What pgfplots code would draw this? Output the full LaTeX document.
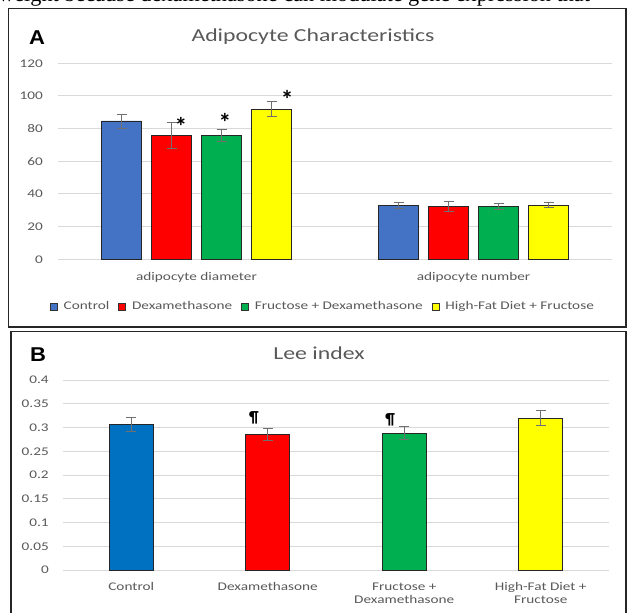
\documentclass[border=0pt]{standalone}
\usepackage{pgfplots}
\pgfplotsset{compat=1.18}
\usepackage{fontspec}
\setmainfont{Carlito}[FakeStretch=1.3]
\newfontfamily\markfont{Carlito}
\newfontfamily\panelfont{Liberation Sans}[FakeStretch=1.1]
\newfontfamily\seriffont{Liberation Serif}
\definecolor{txtgray}{HTML}{595959}
\definecolor{gridgray}{HTML}{D9D9D9}
\definecolor{errgray}{HTML}{707070}
\definecolor{cblueA}{HTML}{4472C4}
\definecolor{cblueB}{HTML}{0070C0}
\definecolor{cred}{HTML}{FF0000}
\definecolor{cgreen}{HTML}{00B050}
\definecolor{cyellow}{HTML}{FFFF00}
\pgfplotsset{
  sqlegend/.style={legend image code/.code={\draw[##1,draw=black!80,line width=0.5pt] (0pt,-2.6pt) rectangle (5.2pt,2.6pt);}},
  mybars/.style={
    every axis plot/.append style={draw=black!85, line width=0.6pt,
      error bars/y dir=both, error bars/y explicit,
      error bars/error bar style={errgray, line width=0.6pt},
      error bars/error mark options={errgray, line width=0.6pt, mark size=3.75pt, rotate=90}},
    every axis plot post/.append style={sqlegend},
    axis line style={draw=none},
    major tick length=0pt,
    ymajorgrids, grid style={gridgray, line width=0.75pt},
    tick label style={font=\fontsize{8.8}{9.75}\selectfont, text=txtgray, inner sep=0pt},
    clip=false,
  }
}
\begin{document}
\begin{tikzpicture}
\path[use as bounding box] (0,0) rectangle (470.25pt,459pt);
% cut-off text line at the top
\begin{scope}
\clip (0,0) rectangle (470.25pt,459pt);
\node[anchor=base west, inner sep=0pt, font=\seriffont\fontsize{16.7}{18}\selectfont] at (-1.5pt,457.5pt) {weight because dexamethasone can modulate gene expression that};
\end{scope}
% panel frames
\draw[black!85, line width=1pt] (6.375pt,452.625pt) rectangle (469.5pt,213.75pt);
\draw[black!85, line width=1pt] (8.25pt,210.375pt) rectangle (469.5pt,-2pt);
% Panel A
\node[font=\panelfont\bfseries\fontsize{15}{17}\selectfont] at (27.75pt,430.5pt) {A};
\node[font=\fontsize{13.7}{16}\selectfont, text=txtgray] at (234.75pt,431.25pt) {Adipocyte Characteristics};
\begin{axis}[
  mybars,
  at={(43.5pt,264.525pt)}, anchor=south west,
  scale only axis, width=415.5pt, height=147pt,
  ybar=7.5pt, bar width=30pt,
  xmin=-0.5, xmax=1.5, ymin=0, ymax=120,
  xtick={0,1}, xticklabels={adipocyte diameter, adipocyte number},
  ytick={0,20,40,60,80,100,120}, yticklabels={0,20,40,60,80,100,120},
  yticklabel style={anchor=east, xshift=-11.25pt},
  xticklabel style={anchor=base, yshift=-16pt},
  legend columns=4,
  legend style={at={(0.4765,-0.241)}, anchor=center, draw=none, fill=none,
    font=\fontsize{8.8}{9.75}\selectfont, text=txtgray,
    nodes={inner sep=0pt},
    /tikz/every odd column/.append style={column sep=4.5pt},
    /tikz/every even column/.append style={column sep=6.75pt}},
]
\addplot[fill=cblueA] coordinates {(0,84.7) +- (0,4.3) (1,33.2) +- (0,1.8)};
\addplot[fill=cred] coordinates {(0,76.0) +- (0,8.0) (1,32.4) +- (0,3.3)};
\addplot[fill=cgreen] coordinates {(0,76.0) +- (0,3.8) (1,32.4) +- (0,1.6)};
\addplot[fill=cyellow] coordinates {(0,92.0) +- (0,4.6) (1,33.2) +- (0,1.7)};
\legend{Control, Dexamethasone, Fructose + Dexamethasone, High-Fat Diet + Fructose}
\node[anchor=north, inner sep=0pt, font=\markfont\bfseries\fontsize{19}{19}\selectfont] at (axis cs:-0.056,87.3) {*};
\node[anchor=north, inner sep=0pt, font=\markfont\bfseries\fontsize{19}{19}\selectfont] at (axis cs:0.103,89.8) {*};
\node[anchor=north, inner sep=0pt, font=\markfont\bfseries\fontsize{19}{19}\selectfont] at (axis cs:0.327,103.7) {*};
\end{axis}
% Panel B
\node[font=\panelfont\bfseries\fontsize{15}{17}\selectfont] at (28.5pt,192.75pt) {B};
\node[font=\fontsize{13.7}{16}\selectfont, text=txtgray] at (239.25pt,194.25pt) {Lee index};
\begin{axis}[
  mybars,
  at={(47.25pt,31.5pt)}, anchor=south west,
  scale only axis, width=409.5pt, height=142.5pt,
  ybar, bar width=33pt,
  xmin=-0.5, xmax=3.5, ymin=0, ymax=0.4,
  xtick={0,1,2,3},
  xticklabels={Control, Dexamethasone,
    {\begin{tabular}[t]{@{}c@{}}Fructose +\\Dexamethasone\end{tabular}},
    {\begin{tabular}[t]{@{}c@{}}High-Fat Diet +\\Fructose\end{tabular}}},
  ytick={0,0.05,0.1,0.15,0.2,0.25,0.3,0.35,0.4},
  yticklabels={0,0.05,0.1,0.15,0.2,0.25,0.3,0.35,0.4},
  yticklabel style={anchor=east, xshift=-10.5pt},
  xticklabel style={anchor=base, yshift=-15.5pt},
]
\addplot[fill=cblueB, bar shift=0pt] coordinates {(0,0.307) +- (0,0.015)};
\addplot[fill=cred, bar shift=0pt] coordinates {(1,0.286) +- (0,0.013)};
\addplot[fill=cgreen, bar shift=0pt] coordinates {(2,0.288) +- (0,0.014)};
\addplot[fill=cyellow, bar shift=0pt] coordinates {(3,0.320) +- (0,0.016)};
\node[inner sep=0pt, font=\markfont\bfseries\fontsize{12}{12}\selectfont] at (axis cs:0.899,0.321) {¶};
\node[inner sep=0pt, font=\markfont\bfseries\fontsize{12}{12}\selectfont] at (axis cs:1.896,0.317) {¶};
\end{axis}
\end{tikzpicture}
\end{document}
